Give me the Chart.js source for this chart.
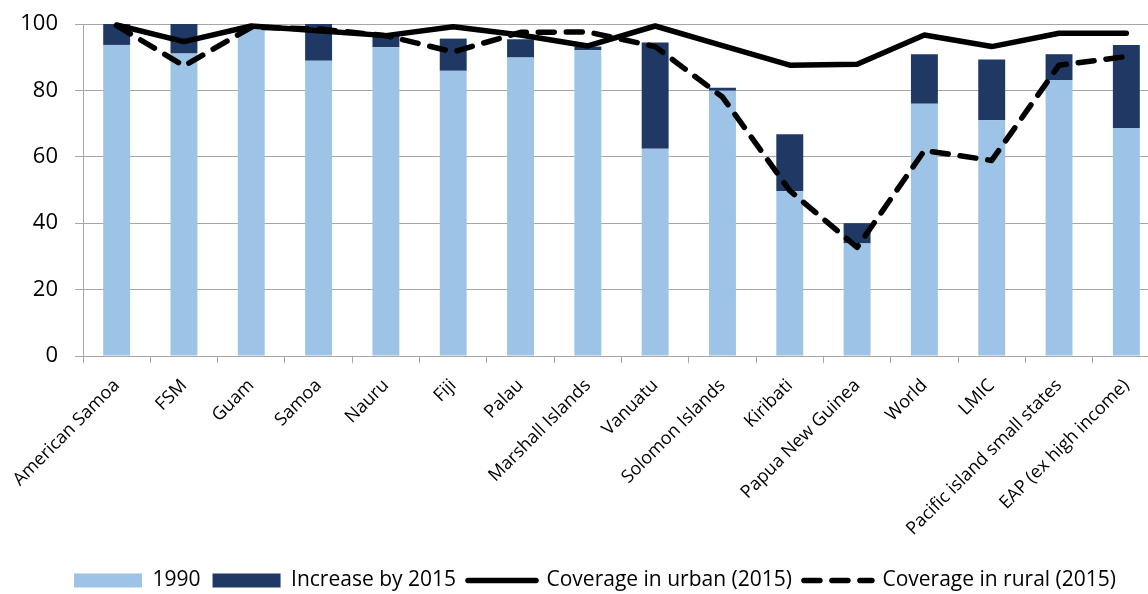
<!DOCTYPE html>
<html>
<head>
<meta charset="utf-8">
<script src="https://cdn.jsdelivr.net/npm/chart.js@4.4.1/dist/chart.umd.min.js"></script>
<style>
  html, body { margin: 0; padding: 0; background: #fff; overflow: hidden; }
  #wrap { position: relative; width: 1160px; height: 594px; }
</style>
</head>
<body>
<div id="wrap"><canvas id="coverageChart"></canvas></div>
<script>
const categories = [
  'American Samoa', 'FSM', 'Guam', 'Samoa', 'Nauru', 'Fiji', 'Palau',
  'Marshall Islands', 'Vanuatu', 'Solomon Islands', 'Kiribati',
  'Papua New Guinea', 'World', 'LMIC', 'Pacific island small states',
  'EAP (ex high income)'
];

// coverage in 1990 and the gain up to 2015 (stacked bars)
const coverage1990 = [93.7, 91.1, 98.8, 88.9, 93.0, 85.9, 89.9, 92.1, 62.4, 79.9, 49.6, 33.9, 76.0, 71.0, 83.1, 68.7];
const increaseBy2015 = [6.3, 8.9, 0.6, 11.1, 3.5, 9.7, 5.5, 1.1, 32.0, 0.9, 17.2, 6.1, 14.9, 18.3, 7.8, 25.0];

const urban2015 = [99.7, 94.7, 99.4, 98.0, 96.5, 99.2, 96.7, 93.4, 99.4, 93.5, 87.6, 87.9, 96.7, 93.2, 97.2, 97.2];
const rural2015 = [99.5, 87.4, 99.0, 98.5, 96.5, 91.6, 97.5, 97.6, 93.2, 78.0, 49.8, 32.7, 61.9, 58.9, 87.6, 90.2];

const yTicks = [0, 20, 40, 60, 80, 100];

const FONT = "'Open Sans', 'Noto Sans', sans-serif";
const GRID = '#a6a6a6';

// legend sits a little right of the canvas centre
const shiftLegend = {
  id: 'shiftLegend',
  afterLayout(chart) {
    const lg = chart.legend;
    if (!lg) return;
    lg.left = 30;
    lg.right = chart.width;
  },
};

const ctx = document.getElementById('coverageChart').getContext('2d');

new Chart(ctx, {
  data: {
    labels: categories,
    datasets: [
      {
        type: 'bar',
        label: '1990',
        data: coverage1990,
        backgroundColor: '#9dc3e6',
        borderWidth: 0,
        barPercentage: 0.4,
        categoryPercentage: 1,
        stack: 'bars',
        order: 2,
      },
      {
        type: 'bar',
        label: 'Increase by 2015',
        data: increaseBy2015,
        backgroundColor: '#1f3864',
        borderWidth: 0,
        barPercentage: 0.4,
        categoryPercentage: 1,
        stack: 'bars',
        order: 2,
      },
      {
        type: 'line',
        label: 'Coverage in urban (2015)',
        data: urban2015,
        borderColor: '#000',
        backgroundColor: '#000',
        borderWidth: 5.5,
        borderCapStyle: 'round',
        borderJoinStyle: 'round',
        pointRadius: 0,
        tension: 0,
        fill: false,
        clip: false,
        stack: 'urban',
        order: 1,
      },
      {
        type: 'line',
        label: 'Coverage in rural (2015)',
        data: rural2015,
        borderColor: '#000',
        backgroundColor: '#000',
        borderWidth: 5.5,
        borderDash: [16, 12],
        borderCapStyle: 'round',
        borderJoinStyle: 'round',
        pointRadius: 0,
        tension: 0,
        fill: false,
        clip: false,
        stack: 'rural',
        order: 1,
      },
    ],
  },
  options: {
    responsive: true,
    maintainAspectRatio: false,
    animation: false,
    layout: {
      padding: { top: 24, left: 0, right: 0, bottom: -7 },
    },
    scales: {
      x: {
        stacked: true,
        offset: true,
        grid: {
          offset: true,
          drawOnChartArea: false,
          drawTicks: true,
          tickLength: 7,
          color: GRID,
        },
        border: { color: GRID },
        ticks: {
          autoSkip: false,
          maxRotation: 45,
          minRotation: 45,
          padding: 12,
          color: '#000',
          font: { family: FONT, size: 18 },
        },
        afterFit: (axis) => { axis.height = 202; },
      },
      y: {
        stacked: true,
        min: 0,
        max: 100,
        afterBuildTicks: (axis) => { axis.ticks = yTicks.map((v) => ({ value: v })); },
        grid: {
          color: GRID,
          tickLength: 8,
        },
        border: { color: GRID },
        ticks: {
          padding: 17,
          color: '#000',
          font: { family: FONT, size: 22 },
        },
        afterFit: (axis) => {
          axis.width = 83;
          // keep the label padding from pushing the plot top down
          axis.paddingTop = 0;
          axis.paddingBottom = 0;
        },
      },
    },
    plugins: {
      tooltip: { enabled: false },
      legend: {
        position: 'bottom',
        labels: {
          usePointStyle: true,
          pointStyleWidth: 68,
          boxWidth: 68,
          boxHeight: 14,
          padding: 12,
          color: '#000',
          font: { family: FONT, size: 21 },
          sort: (a, b) => a.datasetIndex - b.datasetIndex,
          generateLabels: (chart) => {
            const items = Chart.defaults.plugins.legend.labels.generateLabels(chart);
            items.forEach((item) => {
              const ds = chart.data.datasets[item.datasetIndex];
              if (ds.type === 'line') {
                item.pointStyle = 'line';
                item.lineWidth = ds.borderWidth;
                item.lineDash = ds.borderDash || [];
                item.lineCap = 'round';
                item.strokeStyle = ds.borderColor;
              } else {
                item.pointStyle = 'rect';
                item.lineWidth = 0;
                item.fillStyle = ds.backgroundColor;
              }
            });
            return items;
          },
        },
      },
    },
  },
  plugins: [shiftLegend],
});
</script>
</body>
</html>
